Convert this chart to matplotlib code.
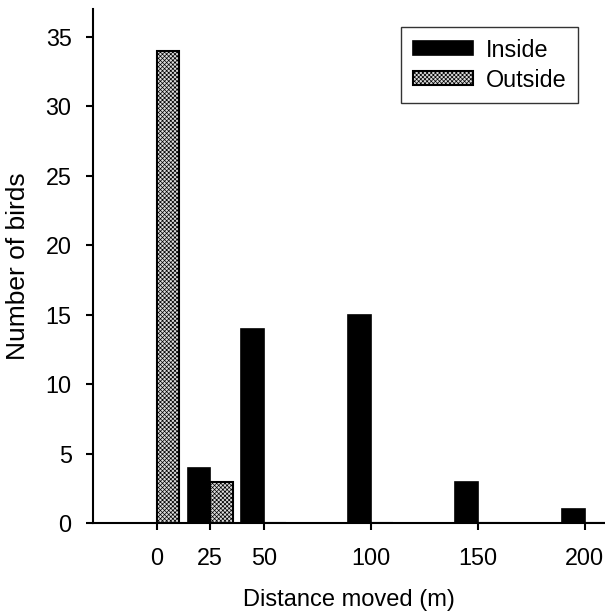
import matplotlib
matplotlib.use("Agg")
import matplotlib.pyplot as plt

plt.rcParams['font.family'] = ['Liberation Sans', 'DejaVu Sans']
plt.rcParams['hatch.linewidth'] = 0.5
plt.rcParams['hatch.color'] = '#a8a8a8'

distances = [0, 25, 50, 100, 150, 200]
inside = [0, 4, 14, 15, 3, 1]
outside = [34, 3, 0, 0, 0, 0]
xtick_labels = ['0', '25', '50', '100', '150', '200']
yticks = [0, 5, 10, 15, 20, 25, 30, 35]

W, H = 605, 612
fig = plt.figure(figsize=(W / 100, H / 100), dpi=100)
ax = fig.add_axes([92.5 / W, 1 - 523.3 / H, (W - 92.5) / W, (523.3 - 9) / H])

bw = 10.6
ax.bar(distances, inside, width=-bw, align='edge', color='black',
       edgecolor='black', linewidth=1.2, label='Inside', zorder=3)
ax.bar(distances, outside, width=bw, align='edge', color='#dcdcdc',
       edgecolor='black', linewidth=1.5, hatch='xxxxxxxx', label='Outside', zorder=3)

ax.set_xlim(-30, 209.5)
ax.set_ylim(0, 37)
ax.set_xticks(distances)
ax.set_xticklabels(xtick_labels)
ax.set_yticks(yticks)

for s in ['top', 'right']:
    ax.spines[s].set_visible(False)
for s in ['left', 'bottom']:
    ax.spines[s].set_linewidth(1.5)

ax.tick_params(axis='both', direction='out', length=5, width=1.5,
               labelsize=16.8, colors='black')
ax.tick_params(axis='x', pad=12)
ax.tick_params(axis='y', pad=10)

ax.set_xlabel('Distance moved (m)', fontsize=17, labelpad=14)
ax.set_ylabel('Number of birds', fontsize=19, labelpad=11)

leg = ax.legend(loc='upper left', bbox_to_anchor=(401 / W, 1 - 27 / H),
                bbox_transform=fig.transFigure, borderaxespad=0,
                fontsize=16.8, frameon=True, fancybox=False,
                handlelength=2.6, handleheight=0.55, handletextpad=0.55,
                labelspacing=0.3, borderpad=0.5)
leg.get_frame().set_edgecolor('black')
leg.get_frame().set_linewidth(1.0)

fig.savefig('out.png', dpi=100)
